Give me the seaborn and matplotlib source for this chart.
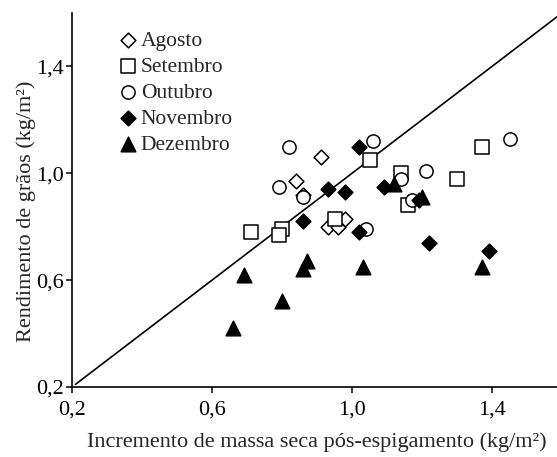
import pandas as pd
import seaborn as sns
import matplotlib
matplotlib.use("Agg")
import matplotlib.pyplot as plt


# values (x: incremento, y: rendimento), kg/m²
agosto_x = [0.91, 0.84, 0.86, 0.93, 0.96, 0.98]
agosto_y = [1.06, 0.97, 0.92, 0.80, 0.80, 0.83]

setembro_x = [0.71, 0.80, 0.79, 0.95, 1.05, 1.14, 1.16, 1.30, 1.37]
setembro_y = [0.78, 0.79, 0.77, 0.83, 1.05, 1.00, 0.88, 0.98, 1.10]

outubro_x = [0.82, 0.79, 0.86, 1.06, 1.04, 1.14, 1.21, 1.17, 1.45]
outubro_y = [1.10, 0.95, 0.91, 1.12, 0.79, 0.98, 1.01, 0.90, 1.13]

novembro_x = [0.86, 0.93, 0.98, 1.02, 1.02, 1.09, 1.19, 1.22, 1.39]
novembro_y = [0.82, 0.94, 0.93, 1.10, 0.78, 0.95, 0.90, 0.74, 0.71]

dezembro_x = [0.69, 0.80, 0.66, 0.86, 0.87, 1.03, 1.12, 1.20, 1.37]
dezembro_y = [0.62, 0.52, 0.42, 0.64, 0.67, 0.65, 0.96, 0.91, 0.65]

# 1:1 reference line
line_x = [0.21, 1.62]
line_y = [0.21, 1.62]

tick_values = [0.2, 0.6, 1.0, 1.4]
tick_labels = ["0,2", "0,6", "1,0", "1,4"]


sns.set_theme(style="ticks")
plt.rcParams['font.family'] = ['Liberation Serif', 'DejaVu Serif']

fig = plt.figure(figsize=(5.57, 4.57), dpi=100)
ax = fig.add_axes([0.1293, 0.1532, 0.8797, 0.8184])

series = [
    ("Agosto", agosto_x, agosto_y, "D", "white", 7.5),
    ("Setembro", setembro_x, setembro_y, "s", "white", 9.5),
    ("Outubro", outubro_x, outubro_y, "o", "white", 9.5),
    ("Novembro", novembro_x, novembro_y, "D", "black", 7.5),
    ("Dezembro", dezembro_x, dezembro_y, "^", "black", 10.5),
]

sns.lineplot(x=line_x, y=line_y, color="black", linewidth=1.2, ax=ax, zorder=1)

for name, xs, ys, mk, fc, ms in series:
    df = pd.DataFrame({"x": xs, "y": ys})
    sns.scatterplot(data=df, x="x", y="y", marker=mk, s=ms ** 2,
                    facecolor=fc, edgecolor="black", linewidth=1.1,
                    label=name, ax=ax, zorder=3)

ax.set_xlim(0.2, 1.6)
ax.set_ylim(0.2, 1.6)
ax.set_xticks(tick_values)
ax.set_xticklabels(tick_labels)
ax.set_yticks(tick_values)
ax.set_yticklabels(tick_labels)
ax.tick_params(direction="out", length=4, width=1.1, colors="black",
               labelsize=16, pad=2)
ax.tick_params(axis="x", pad=6)

for side in ["top", "right"]:
    ax.spines[side].set_visible(False)
for side in ["left", "bottom"]:
    ax.spines[side].set_linewidth(1.2)
    ax.spines[side].set_color("black")

ax.set_xlabel("Incremento de massa seca pós-espigamento (kg/m²)", fontsize=16, labelpad=9)
ax.set_ylabel("Rendimento de grãos (kg/m²)", fontsize=16)
ax.yaxis.set_label_coords(-0.073, 0.47)

leg = ax.legend(loc="upper left", bbox_to_anchor=(0.083, 0.975), frameon=False,
                fontsize=15.5, handlelength=0.6, handletextpad=0.3,
                labelspacing=0.27, borderaxespad=0)

fig.savefig("out.png", dpi=100)
